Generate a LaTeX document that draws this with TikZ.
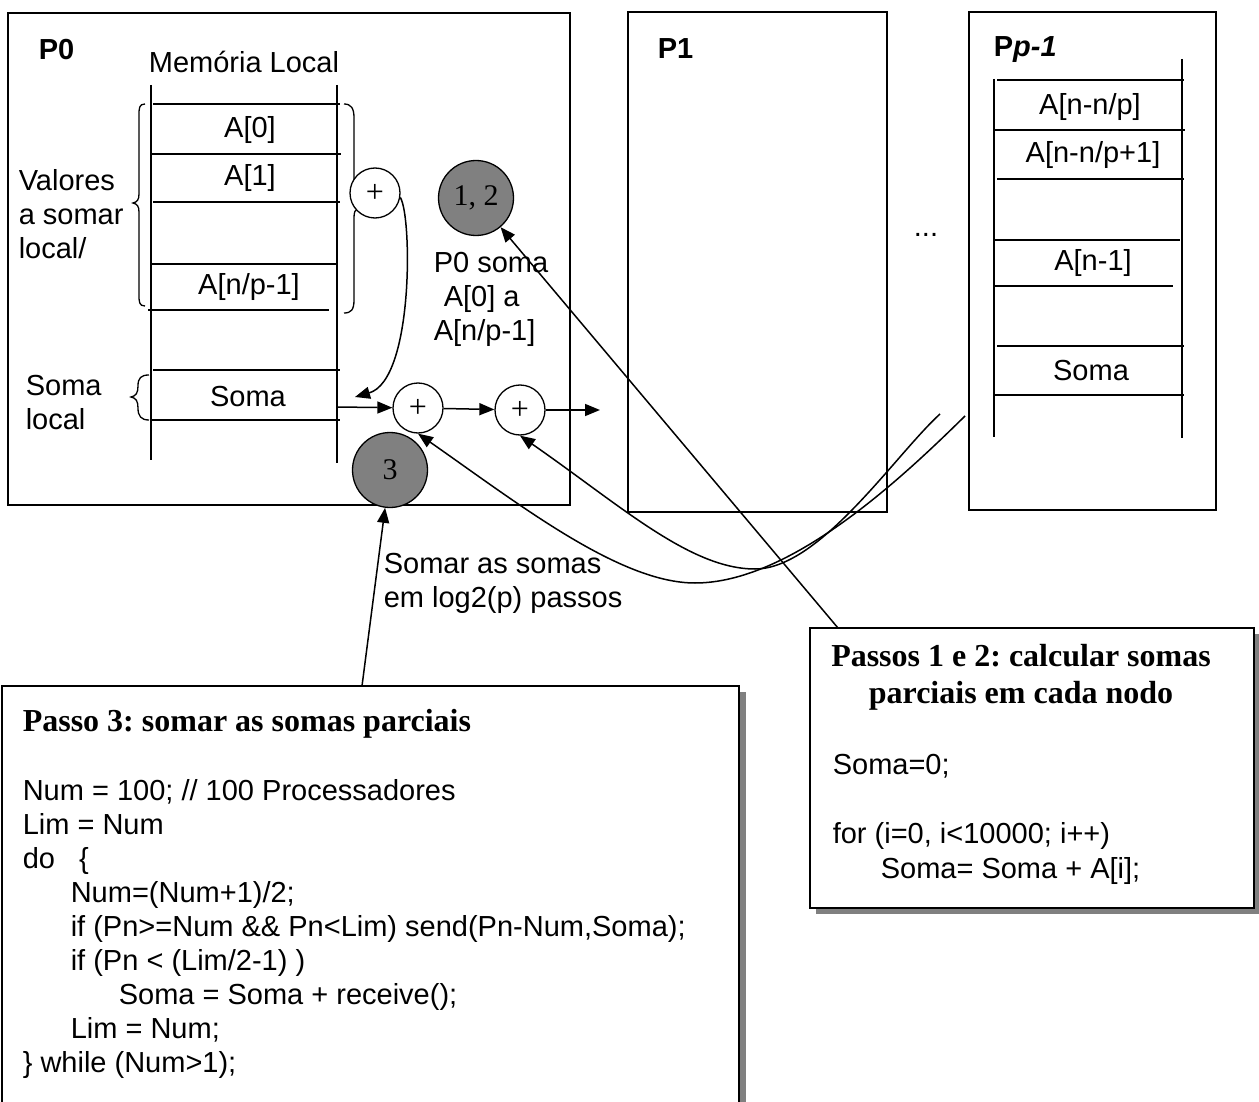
\documentclass[tikz,border=0pt]{standalone}
\usepackage{fontspec}
\setmainfont{Liberation Sans}
\newfontfamily\timesfont{Liberation Serif}
\usetikzlibrary{arrows.meta,positioning,calc}
\frenchspacing

\begin{document}
\begin{tikzpicture}[
    x=1pt,y=-1pt,
    line width=1.6pt,
    font=\fontsize{29}{34}\selectfont,
    flow/.style={-{Triangle[length=15pt,width=12pt]},line width=1.5pt},
    brace/.style={line width=1.3pt},
    sumop/.style={circle,draw,fill=white,line width=1.3pt,minimum size=50pt,inner sep=0pt,
        font=\timesfont\fontsize{32}{32}\selectfont},
    marker/.style={circle,draw,fill=gray,line width=1.3pt,minimum size=75pt,inner sep=0pt,
        font=\timesfont\fontsize{30}{30}\selectfont},
    note/.style={align=left,anchor=north west,inner sep=0pt},
    heading/.style={inner sep=0pt,font=\timesfont\bfseries\fontsize{32}{37}\selectfont},
    codeline/.style={anchor=base west,inner sep=0pt},
]
    \useasboundingbox (0,0) rectangle (1259,1102);

    % processor boxes
    \draw (8,13) rectangle (570,505);
    \draw (628,12) rectangle (887,512);
    \draw (969,12) rectangle (1216,510);
    \node[anchor=west,inner sep=0pt,font=\bfseries\fontsize{29}{34}\selectfont] (lblP0) at (38,50) {P0};
    \node[anchor=west,inner sep=0pt,font=\bfseries\fontsize{29}{34}\selectfont] (lblP1) at (657,49) {P1};
    \node[anchor=west,inner sep=0pt,font=\bfseries\fontsize{29}{34}\selectfont] (lblPp) at (993,50) {P\textit{p-1}};
    \node (dots) at (926,235) {...};

    % local memory of P0
    \node (memlocal) at (244,62) {Memória Local};
    \draw (151,85) -- (151,460);
    \draw (337,85) -- (337,463);
    \foreach \xa/\xb/\yy in {153/340/104, 151/341/154, 153/340/202, 151/336/264,
                             148/329/310, 153/340/370, 151/340/420}
        \draw[line width=1.4pt] (\xa,\yy) -- (\xb,\yy);
    \node (cellA0) at (250,130) {A[0]};
    \node (cellA1) at (250,178) {A[1]};
    \node (cellAn) at (249,287) {A[n/p-1]};
    \node (cellSoma) at (248,397) {Soma};

    % braces
    \draw[brace] (145,104) .. controls (139,104) and (139,108) .. (139,116) -- (139,194)
        .. controls (139,200) and (137,202) .. (133,203) .. controls (137,204) and (139,206) .. (139,212)
        -- (139,294) .. controls (139,302) and (139,306) .. (145,306);
    \draw[brace] (344,104) .. controls (351,104) and (354,108) .. (354,118) -- (354,198)
        .. controls (354,204) and (355,206) .. (358,208) .. controls (355,210) and (354,212) .. (354,218)
        -- (354,300) .. controls (354,310) and (351,313) .. (344,313);
    \draw[brace] (149,375) .. controls (141,375) and (138,378) .. (138,386)
        .. controls (138,393) and (136,396) .. (131,397) .. controls (136,398) and (138,401) .. (138,408)
        .. controls (138,416) and (141,420) .. (149,420);
    \node[note] (valores) at (18,169) {Valores\\a somar\\local/};
    \node[note] (somalocal) at (25,374) {Soma\\local};

    % sum operators and steps
    \node[sumop] (sumA) at (375,193) {+};
    \node[sumop] (sumB) at (418,408) {+};
    \node[sumop] (sumC) at (520,410) {+};
    \node[marker] (step12) at (476,198) {1, 2};
    \node[marker] (step3) at (390,470) {3};
    \node[note] (p0soma) at (433,251) {P0 soma\\\hspace*{10pt}A[0] a\\A[n/p-1]};
    \node[note] (somarsomas) at (383,552) {Somar as somas\\em log2(p) passos};

    \coordinate (somaTip) at (355,397);
    \coordinate (somaOut) at (337,407);
    \coordinate (sumOut) at (600,410);
    \draw[flow] (sumA.-10) .. controls (412,215) and (414,380) .. (somaTip);
    \draw[flow] (somaOut) -- (sumB);
    \draw[flow] (sumB) -- (sumC);
    \draw[flow] (sumC) -- (sumOut);

    % local memory of Pp-1
    \draw (994,79) -- (994,437);
    \draw (1182,59) -- (1182,438);
    \foreach \xa/\xb/\yy in {997/1184/80, 995/1185/130, 997/1184/179, 995/1180/240,
                             993/1173/286, 997/1184/346, 995/1184/395}
        \draw[line width=1.4pt] (\xa,\yy) -- (\xb,\yy);
    \node (cellB0) at (1090,107) {A[n-n/p]};
    \node (cellB1) at (1093,155) {A[n-n/p+1]};
    \node (cellBn) at (1093,263) {A[n-1]};
    \node (cellBSoma) at (1091,371) {Soma};

    % partial sums coming from other nodes
    \coordinate (fromInner) at (940,414);
    \coordinate (fromOuter) at (965,416);
    \draw[flow] (fromInner) .. controls (895,455) and (820,569) .. (755,569)
        .. controls (690,569) and (620,505) .. (sumC.south);
    \draw[flow] (fromOuter) .. controls (900,480) and (790,583) .. (695,583)
        .. controls (620,583) and (520,505) .. (sumB.south);

    % code boxes
    \fill[gray] (8,692) rectangle (746,1110);
    \draw[fill=white] (2,686) rectangle (739,1104);
    \fill[gray] (816,634) rectangle (1260,914);
    \draw[fill=white] (810,628) rectangle (1254,908);

    \node[heading,anchor=base west] (passo3) at (22,731) {Passo 3: somar as somas parciais};
    \foreach \ind/\txt [count=\k] in {22/{Num = 100; // 100 Processadores}, 22/{Lim = Num},
            22/{do\ \ \ \{}, 70/{Num=(Num+1)/2;}, 70/{if (Pn>=Num \&\& Pn<Lim) send(Pn-Num,Soma);},
            70/{if (Pn < (Lim/2-1) )}, 118/{Soma = Soma + receive();}, 70/{Lim = Num;},
            22/{\} while (Num>1);}}
        \node[codeline] (code\k) at (\ind,766+34*\k) {\txt};

    \node[heading,align=center] (passos12) at (1021,677) {Passos 1 e 2: calcular somas\\parciais em cada nodo};
    \node[codeline] (init) at (832,774) {Soma=0;};
    \node[codeline] (loop) at (832,843) {for (i=0, i<10000; i++)};
    \node[codeline] (body) at (880,878) {Soma= Soma + A[i];};

    \coordinate (tail12) at (838,628);
    \coordinate (tail3) at (362,686);
    \draw[flow] (tail12) -- (step12);
    \draw[flow] (tail3) -- (step3);
\end{tikzpicture}
\end{document}
